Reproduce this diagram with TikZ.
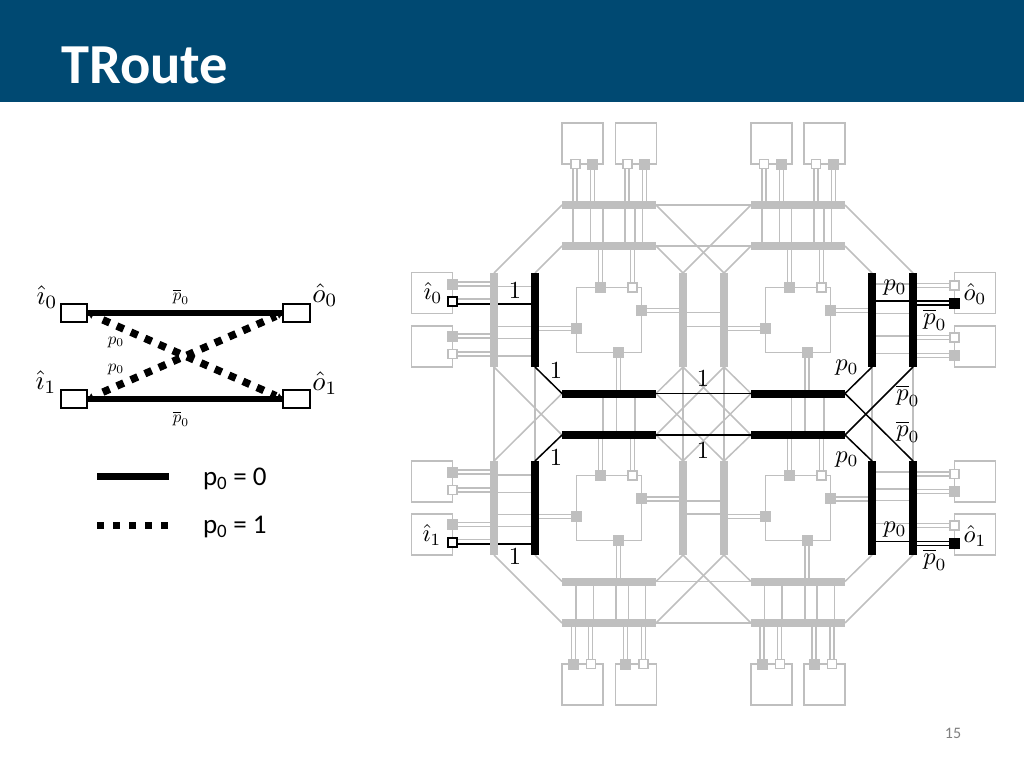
\documentclass[tikz,border=0pt]{standalone}
\usepackage{fontspec}
\setmainfont{Carlito}
\usetikzlibrary{backgrounds,arrows.meta,calc}
\definecolor{band}{RGB}{0,73,114}
\definecolor{gl}{RGB}{191,191,191}
\tikzset{
 barv/.style={fill=#1,draw=none,minimum width=8pt,minimum height=94pt,inner sep=0pt,outer sep=0pt},
 barh/.style={fill=#1,draw=none,minimum width=94pt,minimum height=8pt,inner sep=0pt,outer sep=0pt},
 router/.style={draw=gl,line width=1.5pt,fill=white,minimum width=41pt,minimum height=41pt,inner sep=0pt,outer sep=0pt},
 core/.style={draw=gl,line width=1.5pt,minimum width=65pt,minimum height=65pt,inner sep=0pt,outer sep=0pt},
 pinf/.style={fill=gl,draw=none,minimum size=11pt,inner sep=0pt,outer sep=0pt},
 pino/.style={fill=white,draw=gl,line width=1.7pt,minimum size=9pt,inner sep=0pt,outer sep=0pt},
 pinbo/.style={fill=white,draw=black,line width=2pt,minimum size=8.5pt,inner sep=0pt,outer sep=0pt},
 pinbf/.style={fill=black,draw=none,minimum size=11pt,inner sep=0pt,outer sep=0pt},
 wg/.style={draw=gl,line width=1.5pt},
 wb/.style={draw=black,line width=1.5pt},
 lbl/.style={transform shape,scale=2.45,inner sep=0pt,outer sep=0pt,text=black},
 lblb/.style={transform shape,scale=2.7,inner sep=0pt,outer sep=0pt,text=black},
 small/.style={transform shape,scale=1.7,inner sep=0pt,outer sep=0pt,text=black},
 sbox/.style={draw=black,line width=2.1pt,fill=white,minimum width=26.5pt,minimum height=17.5pt,inner sep=0pt,outer sep=0pt},
 thick line/.style={draw=black,line width=6.5pt},
 dot line/.style={draw=black,line width=7.5pt,dash pattern=on 7.5pt off 7.8pt,shorten <=17pt,shorten >=8pt},
 tip/.style={draw=black,line width=.2pt,-{Latex[length=6pt,width=7pt]}},
 leg/.style={inner sep=0pt,outer sep=0pt,anchor=west,text=black,font=\fontsize{27}{30}\selectfont},
}
% wires: \hw{style}{y}{from}{to}, \vw{style}{x}{from}{to}
\newcommand{\hw}[4]{\draw[#1] (#3 |- 0,#2) -- (#4 |- 0,#2);}
\newcommand{\vw}[4]{\draw[#1] (#2,0 |- #3) -- (#2,0 |- #4);}
\begin{document}
\begin{tikzpicture}[x=1pt,y=-1pt]
\useasboundingbox (0,0) rectangle (1024,768);
\fill[band] (0,0) rectangle (1024,101.5);
\node[inner sep=0pt,anchor=base west,text=white,font=\fontsize{56.5}{60}\selectfont\bfseries] (title) at (61,83) {TRoute};
\node[inner sep=0pt,text={rgb,255:red,128;green,128;blue,128},font=\fontsize{16}{18}\selectfont] (pageno) at (953,733) {15};

% ---------- bars
\node[barv=gl] (L1u) at (494,320) {};
\node[barv=black] (L2u) at (535,320) {};
\node[barv=gl] (M1u) at (683,320) {};
\node[barv=gl] (M2u) at (724,320) {};
\node[barv=black] (R1u) at (872,320) {};
\node[barv=black] (R2u) at (913,320) {};
\node[barv=gl] (L1d) at (494,508) {};
\node[barv=black] (L2d) at (535,508) {};
\node[barv=gl] (M1d) at (683,508) {};
\node[barv=gl] (M2d) at (724,508) {};
\node[barv=black] (R1d) at (872,508) {};
\node[barv=black] (R2d) at (913,508) {};
\node[barh=gl] (A1l) at (609,205) {};
\node[barh=gl] (A2l) at (609,246) {};
\node[barh=black] (B1l) at (609,393.5) {};
\node[barh=black] (B2l) at (609,435) {};
\node[barh=gl] (C1l) at (609,581.5) {};
\node[barh=gl] (C2l) at (609,623) {};
\node[barh=gl] (A1r) at (798,205) {};
\node[barh=gl] (A2r) at (798,246) {};
\node[barh=black] (B1r) at (798,393.5) {};
\node[barh=black] (B2r) at (798,435) {};
\node[barh=gl] (C1r) at (798,581.5) {};
\node[barh=gl] (C2r) at (798,623) {};

% ---------- routers
\node[router] (tl1) at (582.7,143.3) {};
\node[router] (tl2) at (636,143.3) {};
\node[router] (tr1) at (771.3,143.3) {};
\node[router] (tr2) at (824.7,143.3) {};
\node[router] (bl1) at (582.7,684.5) {};
\node[router] (bl2) at (636,684.5) {};
\node[router] (br1) at (771.3,684.5) {};
\node[router] (br2) at (824.7,684.5) {};
\node[router] (lu1) at (432,293.2) {};
\node[router] (lu2) at (432,346.4) {};
\node[router] (ld1) at (432,481.5) {};
\node[router] (ld2) at (432,534.7) {};
\node[router] (ru1) at (975,293.2) {};
\node[router] (ru2) at (975,346.4) {};
\node[router] (rd1) at (975,481.5) {};
\node[router] (rd2) at (975,534.7) {};

% ---------- cores
\foreach \n/\cx/\cy in {cul/609/320,cur/798/320,cdl/609/508,cdr/798/508}{
 \node[core] (\n) at (\cx,\cy) {};
 \node[pinf] (\n t) at (\cx-8.7,\cy-32.5) {};
 \node[pino] (\n o) at (\cx+23.7,\cy-32.5) {};
 \node[pinf] (\n r) at (\cx+32.5,\cy-9.3) {};
 \node[pinf] (\n l) at (\cx-32.5,\cy+8.5) {};
 \node[pinf] (\n b) at (\cx+9.3,\cy+32.5) {};
}

% ---------- router pins
\node[pino] (p1) at (575.3,164) {};
\node[pinf] (p2) at (592.7,164) {};
\node[pino] (p3) at (627.3,164) {};
\node[pinf] (p4) at (644.7,164) {};
\node[pino] (p5) at (764,164) {};
\node[pinf] (p6) at (781.3,164) {};
\node[pino] (p7) at (816,164) {};
\node[pinf] (p8) at (833.3,164) {};
\node[pinf] (q1) at (573.3,664) {};
\node[pino] (q2) at (591,664) {};
\node[pinf] (q3) at (625.7,664) {};
\node[pino] (q4) at (643.3,664) {};
\node[pinf] (q5) at (762.3,664) {};
\node[pino] (q6) at (780,664) {};
\node[pinf] (q7) at (814.3,664) {};
\node[pino] (q8) at (832,664) {};
\node[pinf] (a1) at (452.7,284) {};
\node[pinbo] (a2) at (452.7,301.7) {};
\node[pinf] (a3) at (452.7,336) {};
\node[pino] (a4) at (452.7,354) {};
\node[pinf] (b1) at (452.7,472.3) {};
\node[pino] (b2) at (452.7,490) {};
\node[pinf] (b3) at (452.7,524.3) {};
\node[pinbo] (b4) at (452.7,542.3) {};
\node[pino] (c1) at (954.3,285.5) {};
\node[pinbf] (c2) at (954.3,303) {};
\node[pino] (c3) at (954.3,337.7) {};
\node[pinf] (c4) at (954.3,355.3) {};
\node[pino] (d1) at (954.3,474) {};
\node[pinf] (d2) at (954.3,491.7) {};
\node[pino] (d3) at (954.3,525.5) {};
\node[pinbf] (d4) at (954.3,543.3) {};

\begin{scope}[on background layer]
% ---------- octagon links
\foreach \a/\b in {A1l.west/L1u.north,A2l.west/L2u.north,L1d.south/C2l.west,L2d.south/C1l.west,
  A1r.east/R2u.north,A2r.east/R1u.north,R1d.south/C1r.east,R2d.south/C2r.east,
  A1l.east/A1r.west,A2l.east/A2r.west,C1l.east/C1r.west,C2l.east/C2r.west,
  A1l.east/M2u.north,A1r.west/M1u.north,A2l.east/M1u.north,A2r.west/M2u.north,
  C2l.east/M2d.south,C2r.west/M1d.south,C1l.east/M1d.south,C1r.west/M2d.south,
  M1u.south/B1l.east,M1u.south/B2r.west,M2u.south/B1r.west,M2u.south/B2l.east,
  M1d.north/B2l.east,M1d.north/B1r.west,M2d.north/B2r.west,M2d.north/B1l.east,
  M1u.south/M1d.north,M2u.south/M2d.north,
  L1u.south/L1d.north,L2u.south/L2d.north,R1u.south/R1d.north,R2u.south/R2d.north,
  L1u.south/B2l.west,L1d.north/B1l.west}{
 \draw[wg] (\a) -- (\b);
}
% ---------- vertical wires, top
\foreach \x/\p in {573/p1,577/p1,590.3/p2,594.3/p2,625/p3,629/p3,642.3/p4,646.3/p4,
  762/p5,766/p5,779.3/p6,783.3/p6,814/p7,818/p7,831.3/p8,835.3/p8}{\vw{wg}{\x}{\p}{A1l}}
\foreach \x in {573,590.3,603,625,635,642.3}{\vw{wg}{\x}{A1l}{A2l}}
\foreach \x in {762,779.3,791.7,814,824,831.3}{\vw{wg}{\x}{A1r}{A2r}}
\foreach \x in {598.3,602.3}{\vw{wg}{\x}{A2l}{cult}}
\foreach \x in {630.7,634.7}{\vw{wg}{\x}{A2l}{culo}}
\foreach \x in {787.3,791.3}{\vw{wg}{\x}{A2r}{curt}}
\foreach \x in {819.7,823.7}{\vw{wg}{\x}{A2r}{curo}}
% middle
\foreach \x in {616.3,620.3}{\vw{wg}{\x}{culb}{B1l}}
\foreach \x in {805,809}{\vw{wg}{\x}{curb}{B1r}}
\foreach \x in {603,616.3,635}{\vw{wg}{\x}{B1l}{B2l}}
\foreach \x in {791.7,805,824}{\vw{wg}{\x}{B1r}{B2r}}
\foreach \x in {598.3,602.3}{\vw{wg}{\x}{B2l}{cdlt}}
\foreach \x in {630.7,634.7}{\vw{wg}{\x}{B2l}{cdlo}}
\foreach \x in {787.3,791.3}{\vw{wg}{\x}{B2r}{cdrt}}
\foreach \x in {819.7,823.7}{\vw{wg}{\x}{B2r}{cdro}}
% bottom
\foreach \x in {616.3,620.3}{\vw{wg}{\x}{cdlb}{C1l}}
\foreach \x in {805,809}{\vw{wg}{\x}{cdrb}{C1r}}
\foreach \x in {576,593.3,616,628.3,645.7}{\vw{wg}{\x}{C1l}{C2l}}
\foreach \x in {764.7,782,805,817,834.3}{\vw{wg}{\x}{C1r}{C2r}}
\foreach \x/\p in {571.3/q1,575.3/q1,588.7/q2,592.7/q2,623.3/q3,627.3/q3,641.3/q4,645.3/q4,
  760/q5,764/q5,777.3/q6,781.3/q6,812/q7,816/q7,830/q8,834/q8}{\vw{wg}{\x}{C2l}{\p}}
% ---------- horizontal wires, left column
\foreach \y/\p in {282/a1,286/a1,299/a2,334/a3,338/a3,352/a4,356/a4,
  470/b1,474/b1,488/b2,492/b2,522.3/b3,526.3/b3,539.3/b4}{\hw{wg}{\y}{\p}{L1u}}
\foreach \y in {286.7,326.3,338.3,356}{\hw{wg}{\y}{L1u}{L2u}}
\foreach \y in {475,492.3,514.3,526.7}{\hw{wg}{\y}{L1d}{L2d}}
\foreach \y in {326.3,330.3}{\hw{wg}{\y}{L2u}{cull}}
\foreach \y in {514.3,518.3}{\hw{wg}{\y}{L2d}{cdll}}
% middle columns
\foreach \y in {308.7,312.7}{\hw{wg}{\y}{culr}{M1u}}
\foreach \y in {497,501}{\hw{wg}{\y}{cdlr}{M1d}}
\foreach \y in {312.7,326.3}{\hw{wg}{\y}{M1u}{M2u}}
\foreach \y in {501,514}{\hw{wg}{\y}{M1d}{M2d}}
\foreach \y in {326.3,330.3}{\hw{wg}{\y}{M2u}{curl}}
\foreach \y in {514.3,518.3}{\hw{wg}{\y}{M2d}{cdrl}}
% right columns
\foreach \y in {308.7,312.7}{\hw{wg}{\y}{curr}{R1u}}
\foreach \y in {497,501}{\hw{wg}{\y}{cdrr}{R1d}}
\foreach \y in {284,313.3,336,353.3}{\hw{wg}{\y}{R1u}{R2u}}
\foreach \y in {472,489,500.7,523.3}{\hw{wg}{\y}{R1d}{R2d}}
\foreach \y/\p in {283.5/c1,287.5/c1,335.7/c3,339.7/c3,353.3/c4,357.3/c4,
  472/d1,476/d1,489.7/d2,493.7/d2,523.3/d3,527.3/d3}{\hw{wg}{\y}{R2u}{\p}}
% ---------- black route
\hw{wb}{304}{a2}{L2u}
\hw{wb}{544}{b4}{L2d}
\hw{wb}{301}{R1u}{c2}
\hw{wb}{305}{R2u}{c2}
\hw{wb}{541.3}{R1d}{d4}
\hw{wb}{545.3}{R2d}{d4}
\foreach \a/\b in {L2u.south/B1l.west,L2d.north/B2l.west,B1l.east/B1r.west,B2l.east/B2r.west,
  B1r.east/R1u.south,B1r.east/R2d.north,B2r.east/R1d.north,B2r.east/R2u.south}{
 \draw[wb] (\a) -- (\b);
}
\end{scope}

% ---------- labels, large diagram
\node[lbl] (li0) at (433,293) {$\hat{\imath}_0$};
\node[lbl] (li1) at (432,535) {$\hat{\imath}_1$};
\node[lbl] (lo0) at (975,294) {$\hat{o}_0$};
\node[lbl] (lo1) at (975,536) {$\hat{o}_1$};
\node[lbl] (n1) at (515,291) {$1$};
\node[lbl] (n2) at (556,371) {$1$};
\node[lbl] (n3) at (703,379) {$1$};
\node[lbl] (n4) at (703,451) {$1$};
\node[lbl] (n5) at (556,458) {$1$};
\node[lbl] (n6) at (515,557) {$1$};
\node[lbl] (r1) at (895,288) {$p_0$};
\node[lbl] (r2) at (935,320) {$\overline{p}_0$};
\node[lbl] (r3) at (847,368) {$p_0$};
\node[lbl] (r4) at (908,396) {$\overline{p}_0$};
\node[lbl] (r5) at (908,432) {$\overline{p}_0$};
\node[lbl] (r6) at (847,460) {$p_0$};
\node[lbl] (r7) at (895,530) {$p_0$};
\node[lbl] (r8) at (935,560) {$\overline{p}_0$};

% ---------- left small diagram
\node[sbox] (si0) at (74,313) {};
\node[sbox] (so0) at (296.5,313) {};
\node[sbox] (si1) at (74,399) {};
\node[sbox] (so1) at (296.5,399) {};
\begin{scope}[on background layer]
\draw[thick line] (si0) -- (so0);
\draw[thick line] (si1) -- (so1);
\draw[dot line] (si0.east) -- (so1.west);
\draw[dot line] (si1.east) -- (so0.west);
\draw[tip] ($(si0.east)!7pt!(so1.west)$) -- (si0.east);
\draw[tip] ($(so1.west)!7pt!(si0.east)$) -- (so1.west);
\draw[tip] ($(si1.east)!7pt!(so0.west)$) -- (si1.east);
\draw[tip] ($(so0.west)!7pt!(si1.east)$) -- (so0.west);
\end{scope}
\node[lblb] (ti0) at (47,297) {$\hat{\imath}_0$};
\node[lblb] (ti1) at (46,382) {$\hat{\imath}_1$};
\node[lblb] (to0) at (325,295) {$\hat{o}_0$};
\node[lblb] (to1) at (325,383) {$\hat{o}_1$};
\node[small] (tp1) at (181,297) {$\overline{p}_0$};
\node[small] (tp2) at (181,419) {$\overline{p}_0$};
\node[small] (tp3) at (116,342) {$p_0$};
\node[small] (tp4) at (116,369) {$p_0$};

% ---------- legend
\coordinate (ls1) at (97.3,476.7);
\coordinate (ls2) at (169.3,476.7);
\coordinate (ld1) at (97.3,525);
\coordinate (ld2) at (169.3,525);
\draw[draw=black,line width=7.5pt] (ls1) -- (ls2);
\draw[draw=black,line width=7pt,dash pattern=on 6.5pt off 9.5pt] (ld1) -- (ld2);
\node[leg] (lg1) at (203,479) {p\textsubscript{0} = 0};
\node[leg] (lg2) at (203,527) {p\textsubscript{0} = 1};
\end{tikzpicture}
\end{document}
